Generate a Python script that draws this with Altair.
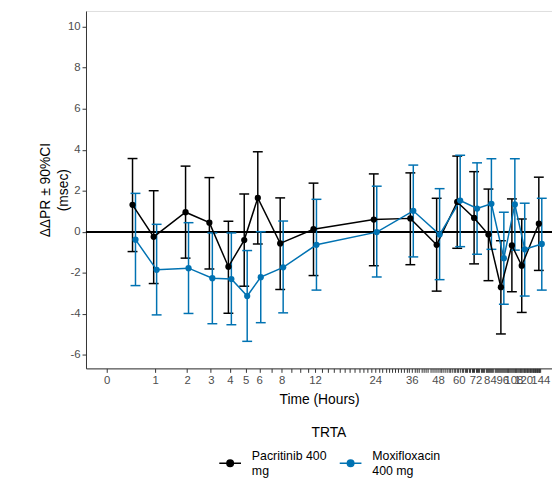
import altair as alt
import pandas as pd

# ---- data ----
times = [0.5, 1, 2, 3, 4, 5, 6, 8, 12, 24, 36, 48, 60, 72, 84, 96, 108, 120, 144]

pac_mean = [1.31, -0.25, 0.95, 0.44, -1.71, -0.41, 1.65, -0.57, 0.12, 0.59, 0.65, -0.64, 1.45, 0.67, -0.14, -2.71, -0.67, -1.66, 0.39]
pac_upper = [3.57, 2.00, 3.20, 2.64, 0.51, 1.84, 3.90, 1.65, 2.37, 2.82, 2.87, 1.63, 3.69, 2.93, 2.08, -0.44, 1.60, 0.62, 2.66]
pac_lower = [-0.97, -2.53, -1.29, -1.82, -3.98, -2.66, -0.60, -2.82, -2.14, -1.66, -1.61, -2.90, -0.81, -1.57, -2.39, -4.99, -2.93, -3.94, -1.89]

moxi_mean = [-0.39, -1.86, -1.78, -2.27, -2.31, -3.14, -2.22, -1.74, -0.64, -0.02, 1.02, -0.14, 1.52, 1.13, 1.36, -1.29, 1.33, -0.86, -0.60]
moxi_upper = [1.87, 0.36, 0.44, -0.06, -0.06, -0.92, 0.00, 0.52, 1.58, 2.22, 3.25, 2.10, 3.73, 3.36, 3.56, 0.95, 3.56, 1.39, 1.63]
moxi_lower = [-2.63, -4.06, -3.99, -4.49, -4.54, -5.35, -4.44, -3.96, -2.85, -2.21, -1.23, -2.34, -0.73, -1.10, -0.86, -3.54, -0.90, -3.14, -2.85]

groups = ["Pacritinib 400 mg", "Moxifloxacin 400 mg"]
colors = ["#000000", "#0072B2"]

x_labels = [0, 1, 2, 3, 4, 5, 6, 8, 12, 24, 36, 48, 60, 72, 84, 96, 108, 120, 144]
x_ticks = list(range(0, 145))
y_ticks = [-6, -4, -2, 0, 2, 4, 6, 8, 10]

rows = []
for g, m, lo, hi in [(groups[0], pac_mean, pac_lower, pac_upper),
                     (groups[1], moxi_mean, moxi_lower, moxi_upper)]:
    for t, a, b, c in zip(times, m, lo, hi):
        rows.append({"time": t, "trt": g, "mean": a, "lower": b, "upper": c})
df = pd.DataFrame(rows)

FONT = "Liberation Sans"

xscale = alt.Scale(type="symlog", constant=1.5, domain=[-0.367, 163.1], nice=False, zero=False)
yscale = alt.Scale(domain=[-6.67, 10.77], nice=False, zero=False)

label_list = ",".join(str(v) for v in x_labels)
xaxis = alt.Axis(
    title="Time (Hours)", values=x_ticks,
    labelExpr=f"indexof([{label_list}], datum.value) >= 0 ? '' + datum.value : ''",
    labelOverlap=False, labelFlush=False, labelBound=False,
    grid=False, tickSize=4, tickColor="#333333", domainColor="#333333",
    labelColor="#4d4d4d", labelFontSize=11.5, labelFont=FONT, labelPadding=2,
    titleFont=FONT, titleFontSize=14, titleFontWeight="normal", titleColor="black", titlePadding=7,
)
yaxis = alt.Axis(
    title=["ΔΔPR ± 90%CI", "(msec)"], values=y_ticks,
    labelExpr="'' + datum.value",
    grid=False, tickSize=4, tickColor="#333333", domainColor="#333333",
    labelColor="#4d4d4d", labelFontSize=11.5, labelFont=FONT, labelPadding=2,
    titleFont=FONT, titleFontSize=14, titleFontWeight="normal", titleColor="black",
    titlePadding=-3, titleLineHeight=18,
)

sym_path = "M-1,0.65L1,0.65M0.3,0.65A0.3,0.3,0,1,1,-0.3,0.65A0.3,0.3,0,1,1,0.3,0.65Z"
legend = alt.Legend(
    title="TRTA", orient="none", legendX=134, legendY=420, direction="horizontal",
    titleAnchor="middle", titleFont=FONT, titleFontSize=14, titleFontWeight="normal",
    titleColor="black", titlePadding=5,
    labelFont=FONT, labelFontSize=12.5, labelColor="black", labelOffset=10,
    labelExpr="datum.label == 'Pacritinib 400 mg' ? ['Pacritinib 400', 'mg'] : ['Moxifloxacin', '400 mg']",
    symbolType=sym_path, symbolSize=484, symbolStrokeWidth=1.5, columnPadding=10,
)

color = alt.Color("trt:N", scale=alt.Scale(domain=groups, range=colors), legend=legend)
X = alt.X("time:Q", scale=xscale, axis=xaxis)

layers = []
offsets = {groups[0]: -1.5, groups[1]: 1.5}
for g in groups:
    base = alt.Chart(df).transform_filter(alt.datum.trt == g)
    off = offsets[g]
    layers.append(base.mark_rule(strokeWidth=1.5, xOffset=off).encode(
        x=X, y=alt.Y("lower:Q", scale=yscale, axis=yaxis), y2="upper:Q", color=color))
    layers.append(base.mark_tick(orient="horizontal", size=10, thickness=1.5, xOffset=off, opacity=1).encode(
        x=X, y=alt.Y("upper:Q", scale=yscale), color=color))
    layers.append(base.mark_tick(orient="horizontal", size=10, thickness=1.5, xOffset=off, opacity=1).encode(
        x=X, y=alt.Y("lower:Q", scale=yscale), color=color))
for g in groups:
    base = alt.Chart(df).transform_filter(alt.datum.trt == g)
    off = offsets[g]
    layers.append(base.mark_line(strokeWidth=1.5, xOffset=off).encode(
        x=X, y=alt.Y("mean:Q", scale=yscale), color=color))
for g in groups:
    base = alt.Chart(df).transform_filter(alt.datum.trt == g)
    off = offsets[g]
    layers.append(base.mark_point(filled=True, size=40, opacity=1, xOffset=off).encode(
        x=X, y=alt.Y("mean:Q", scale=yscale), color=color))

zero = alt.Chart(df).mark_rule(color="black", strokeWidth=1.5).encode(y=alt.datum(0))

chart = alt.layer(zero, *layers).properties(
    width=472, height=362,
    autosize=alt.AutoSizeParams(type="none"),
    padding={"left": 79, "top": 0, "right": 0, "bottom": 108},
).configure_view(stroke="#8c8c8c", strokeWidth=1).configure(font=FONT)

chart.save("out.html", embed_options={"renderer": "svg", "actions": False})
